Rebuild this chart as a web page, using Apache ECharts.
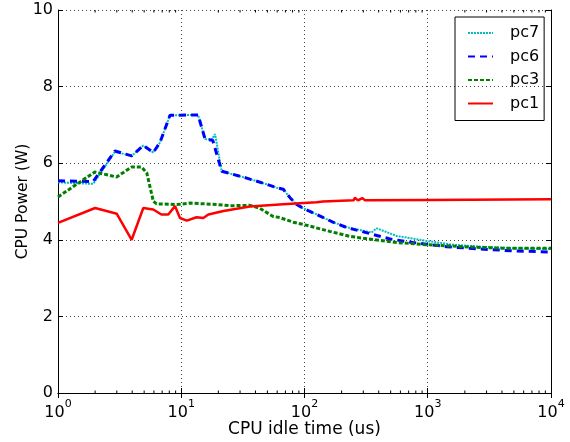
<!DOCTYPE html>
<html><head><meta charset="utf-8">
<script src="https://cdn.jsdelivr.net/npm/echarts@6/dist/echarts.min.js"></script>
<style>html,body{margin:0;padding:0;background:#fff}#c{width:570px;height:442px}</style>
</head><body><div id="c"></div>
<script>
var seriesNames = ['pc7','pc6','pc3','pc1'];
var pc7 = [[1,5.5],[1.93,5.46],[2.9,6.3],[3.96,6.19],[4.92,6.46],[5.93,6.28],[6.72,6.54],[8.1,7.25],[13.7,7.26],[15.6,6.63],[17.7,6.62],[18.8,6.76],[21.3,5.79],[24.9,5.73],[34,5.61],[49.3,5.45],[59.5,5.36],[67.3,5.32],[76.3,5.1],[86.4,4.92],[98,4.82],[126,4.66],[170,4.46],[220,4.33],[350,4.19],[385,4.3],[560,4.1],[980,3.97],[1620,3.87],[2660,3.82],[5000,3.78],[10000,3.76]];
var pc6 = [[1,5.54],[1.93,5.52],[2.9,6.32],[3.96,6.19],[4.92,6.46],[5.93,6.28],[6.72,6.54],[8.1,7.25],[13.7,7.26],[15.6,6.63],[18,6.6],[21.3,5.79],[24.9,5.73],[34,5.61],[49.3,5.45],[59.5,5.36],[67.3,5.32],[76.3,5.1],[86.4,4.92],[98,4.82],[126,4.66],[170,4.46],[220,4.32],[350,4.15],[495,4.02],[760,3.93],[1420,3.82],[2660,3.76],[4980,3.71],[10000,3.68]];
var pc3 = [[1,5.12],[1.99,5.77],[2.99,5.64],[3.96,5.9],[4.77,5.9],[5.25,5.75],[5.93,5.01],[6.3,4.94],[9.2,4.92],[11.8,4.96],[19.4,4.92],[24.9,4.89],[36,4.9],[43,4.83],[55.7,4.61],[63,4.58],[81,4.46],[101,4.39],[160,4.22],[233,4.09],[300,4.04],[560,3.93],[1000,3.87],[1940,3.82],[4000,3.78],[10000,3.78]];
var pc1 = [[1,4.44],[2,4.83],[3,4.68],[3.96,4.0],[4.92,4.83],[5.93,4.79],[6.9,4.66],[7.85,4.66],[8.9,4.88],[9.76,4.57],[11.1,4.5],[13.3,4.59],[15.1,4.57],[16.6,4.66],[22,4.75],[36,4.87],[67,4.93],[125,4.98],[141,5.0],[250,5.03],[256,5.1],[272,5.03],[294,5.09],[310,5.03],[1040,5.04],[10000,5.06]];
var xMin = 1, xMax = 10000, yMin = 0, yMax = 10, yInterval = 2;
var xTitle = 'CPU idle time (us)', yTitle = 'CPU Power (W)';

var minorTicks = [];
for (var d = 1; d < xMax; d *= 10) for (var m = 2; m <= 9; m++) minorTicks.push([m * d]);

var FONT = 'DejaVu Sans';
var chart = echarts.init(document.getElementById('c'));
var fmt = function (v) { var e = Math.round(Math.log10(v)); return '{b|10}{s|' + e + '}'; };
chart.setOption({
  animation: false,
  grid: {left: 58, right: 19, top: 10, bottom: 49, containLabel: false, outerBoundsMode: 'none'},
  legend: {
    data: seriesNames, orient: 'vertical', left: 455, top: 17,
    borderColor: '#000', borderWidth: 1, borderRadius: 0, padding: [8, 5, 9, 12],
    itemWidth: 25, itemHeight: 14, itemGap: 7.5,
    itemStyle: {opacity: 0},
    textStyle: {fontFamily: FONT, fontSize: 16, color: '#000', padding: [0, 0, 0, 12]}
  },
  xAxis: [{
    type: 'log', logBase: 10, min: xMin, max: xMax,
    name: xTitle, nameLocation: 'middle', nameGap: 28, nameMoveOverlap: false,
    nameTextStyle: {fontFamily: FONT, fontSize: 17, color: '#000'},
    axisLine: {lineStyle: {color: '#000', width: 1}},
    axisTick: {inside: true, length: 5, lineStyle: {color: '#000'}},
    axisLabel: {formatter: fmt, margin: 6, rich: {
      b: {fontFamily: FONT, fontSize: 16, color: '#000', lineHeight: 22, verticalAlign: 'bottom'},
      s: {fontFamily: FONT, fontSize: 11, color: '#000', verticalAlign: 'top', lineHeight: 11}
    }},
    splitLine: {show: true, lineStyle: {color: '#444', type: [1, 3], width: 1}}
  }, {
    type: 'log', logBase: 10, min: xMin, max: xMax, position: 'top',
    axisLine: {lineStyle: {color: '#000'}},
    axisTick: {inside: true, length: 5, lineStyle: {color: '#000'}},
    axisLabel: {show: false}, splitLine: {show: false}
  }],
  yAxis: [{
    type: 'value', min: yMin, max: yMax, interval: yInterval,
    name: yTitle, nameLocation: 'middle', nameGap: 27, nameMoveOverlap: false,
    nameTextStyle: {fontFamily: FONT, fontSize: 15.5, color: '#000'},
    axisLine: {show: true, lineStyle: {color: '#000'}},
    axisTick: {show: true, inside: true, length: 5, lineStyle: {color: '#000'}},
    axisLabel: {fontFamily: FONT, fontSize: 16, color: '#000', margin: 5},
    splitLine: {show: true, lineStyle: {color: '#444', type: [1, 3], width: 1}}
  }, {
    type: 'value', min: yMin, max: yMax, interval: yInterval, position: 'right',
    axisLine: {show: true, lineStyle: {color: '#000'}},
    axisTick: {show: true, inside: true, length: 5, lineStyle: {color: '#000'}},
    axisLabel: {show: false}, splitLine: {show: false}
  }],
  series: [
    {name: 'pc7', type: 'line', data: pc7, symbol: 'none', lineStyle: {color: '#00bfbf', width: 2, type: [2, 1]}, itemStyle: {color: '#00bfbf'}},
    {name: 'pc6', type: 'line', data: pc6, symbol: 'none', lineStyle: {color: '#0000ff', width: 3, type: [7, 5]}, itemStyle: {color: '#0000ff'}},
    {name: 'pc3', type: 'line', data: pc3, symbol: 'none', lineStyle: {color: '#007f00', width: 3, type: [4, 2]}, itemStyle: {color: '#007f00'}},
    {name: 'pc1', type: 'line', data: pc1, symbol: 'none', lineStyle: {color: '#ff0000', width: 2.5}, itemStyle: {color: '#ff0000'}},
    {type: 'custom', data: minorTicks, silent: true, clip: false, z: 5,
      renderItem: function (params, api) {
        var b = api.coord([api.value(0), yMin]);
        var t = api.coord([api.value(0), yMax]);
        return {type: 'group', children: [
          {type: 'line', shape: {x1: b[0], y1: b[1], x2: b[0], y2: b[1] - 2.5}, style: {stroke: '#000', lineWidth: 1}},
          {type: 'line', shape: {x1: t[0], y1: t[1], x2: t[0], y2: t[1] + 2.5}, style: {stroke: '#000', lineWidth: 1}}
        ]};
      }}
  ]
});
</script></body></html>
